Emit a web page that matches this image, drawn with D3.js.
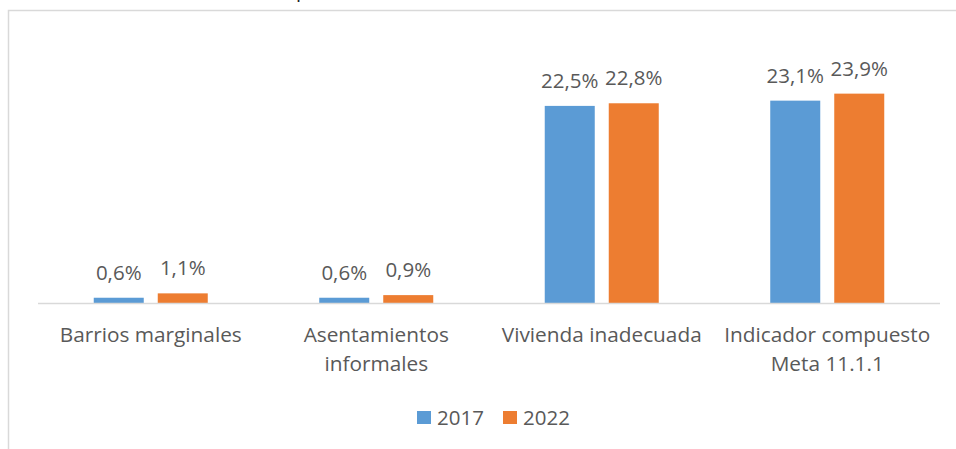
<!DOCTYPE html>
<html>
<head>
<meta charset="utf-8">
<script src="https://cdn.jsdelivr.net/npm/d3@7"></script>
<style>
  body { margin: 0; background: #fff; }
  svg { display: block; font-family: "Open Sans", sans-serif; }
</style>
</head>
<body>
<script>
var categories = [
  ["Barrios marginales"],
  ["Asentamientos", "informales"],
  ["Vivienda inadecuada"],
  ["Indicador compuesto", "Meta 11.1.1"]
];
var series = ["2017", "2022"];
var values2017 = [0.6, 0.6, 22.5, 23.1];
var values2022 = [1.1, 0.9, 22.8, 23.9];
var colors = ["#5b9bd5", "#ed7d31"];

var width = 956, height = 449;
var textColor = "#595959";

var svg = d3.select("body").append("svg")
  .attr("width", width)
  .attr("height", height);

// chart frame (clipped at right and bottom)
svg.append("rect")
  .attr("x", 8.5).attr("y", 10.5)
  .attr("width", 1000).attr("height", 1000)
  .attr("fill", "none")
  .attr("stroke", "#d9d9d9")
  .attr("stroke-width", 1.5);

// cut-off title fragment at the top edge
svg.append("text")
  .attr("x", 296).attr("y", -3)
  .attr("font-size", 20)
  .attr("fill", "#222")
  .text("p");

var x0 = d3.scaleBand()
  .domain(d3.range(categories.length))
  .range([38, 940]);

var x1 = d3.scaleBand()
  .domain(series)
  .range([0, x0.bandwidth()])
  .paddingInner(14 / 64)
  .paddingOuter(0.871);

var y = d3.scaleLinear()
  .domain([0, 25])
  .range([303, 84]);

var rows = categories.map(function(c, i) {
  return [values2017[i], values2022[i]];
});

var groups = svg.selectAll("g.cat")
  .data(rows)
  .enter().append("g")
  .attr("class", "cat")
  .attr("transform", function(d, i) { return "translate(" + x0(i) + ",0)"; });

groups.selectAll("rect")
  .data(function(d) { return d; })
  .enter().append("rect")
  .attr("x", function(d, j) { return x1(series[j]); })
  .attr("y", function(d) { return y(d); })
  .attr("width", x1.bandwidth())
  .attr("height", function(d) { return y(0) - y(d); })
  .attr("fill", function(d, j) { return colors[j]; });

groups.selectAll("text.val")
  .data(function(d) { return d; })
  .enter().append("text")
  .attr("class", "val")
  .attr("x", function(d, j) { return x1(series[j]) + x1.bandwidth() / 2; })
  .attr("y", function(d) { return y(d) - 18; })
  .attr("text-anchor", "middle")
  .attr("font-size", 20.5)
  .attr("fill", textColor)
  .text(function(d) { return d3.format(".1f")(d).replace(".", ",") + "%"; });

// axis line
svg.append("line")
  .attr("x1", 38).attr("x2", 940)
  .attr("y1", y(0) + 0.5).attr("y2", y(0) + 0.5)
  .attr("stroke", "#d9d9d9")
  .attr("stroke-width", 1.5);

// category labels
var labels = svg.selectAll("text.cat")
  .data(categories)
  .enter().append("text")
  .attr("class", "cat")
  .attr("text-anchor", "middle")
  .attr("font-size", 20.8)
  .attr("fill", textColor);

labels.selectAll("tspan")
  .data(function(d, i) { return d.map(function(t) { return { t: t, i: i }; }); })
  .enter().append("tspan")
  .attr("x", function(d) { return x0(d.i) + x0.bandwidth() / 2; })
  .attr("y", function(d, k) { return 342 + k * 28.5; })
  .text(function(d) { return d.t; });

// legend
var legendX = [417, 503];
var legend = svg.selectAll("g.leg")
  .data(series)
  .enter().append("g")
  .attr("class", "leg")
  .attr("transform", function(d, i) { return "translate(" + legendX[i] + ",411)"; });

legend.append("rect")
  .attr("width", 14).attr("height", 13)
  .attr("fill", function(d, i) { return colors[i]; });

legend.append("text")
  .attr("x", 20).attr("y", 14)
  .attr("font-size", 20.5)
  .attr("fill", textColor)
  .text(function(d) { return d; });
</script>
</body>
</html>
